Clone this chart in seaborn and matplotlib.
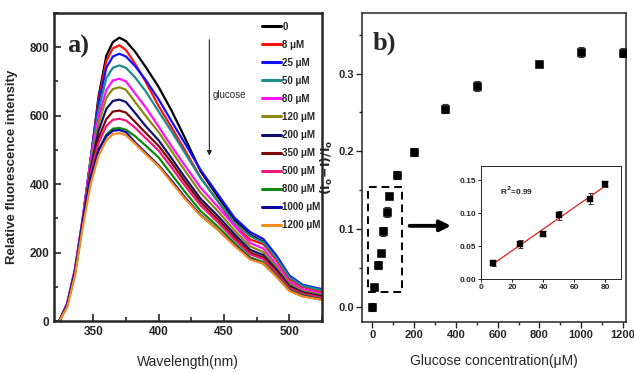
import matplotlib
matplotlib.use('Agg')
import matplotlib.pyplot as plt
from matplotlib.patches import Rectangle
from matplotlib.ticker import MultipleLocator, FormatStrFormatter
import seaborn as sns
import pandas as pd

# ---- panel a) fluorescence spectra ----
wavelength = [324, 330, 336, 342, 348, 354, 360, 365, 370, 375, 382, 390, 400,
              410, 420, 432, 445, 458, 470, 480, 490, 500, 510, 525]

conc_labels = ['0', '8 μM', '25 μM', '50 μM', '80 μM', '120 μM', '200 μM',
               '350 μM', '500 μM', '800 μM', '1000 μM', '1200 μM']

spec_0 = [0, 48, 145, 295, 470, 655, 775, 815, 828, 818, 787, 743, 684, 614, 536, 438, 365, 296, 252, 232, 182, 126, 102, 88]
spec_8 = [0, 48, 145, 295, 470, 645, 760, 797, 806, 792, 752, 700, 628, 565, 500, 420, 352, 280, 238, 225, 178, 122, 100, 84]
spec_25 = [0, 50, 150, 300, 475, 635, 740, 773, 781, 773, 745, 705, 648, 583, 520, 442, 372, 302, 260, 240, 192, 133, 106, 93]
spec_50 = [0, 50, 150, 300, 472, 615, 710, 740, 747, 740, 712, 672, 612, 553, 492, 418, 352, 288, 248, 230, 184, 128, 103, 90]
spec_80 = [0, 52, 152, 302, 470, 595, 675, 703, 708, 700, 665, 625, 568, 510, 455, 390, 335, 278, 228, 212, 165, 114, 93, 80]
spec_120 = [0, 46, 142, 292, 455, 575, 652, 678, 683, 676, 640, 600, 552, 496, 440, 375, 322, 265, 218, 202, 158, 108, 88, 76]
spec_200 = [0, 46, 142, 290, 445, 555, 620, 643, 647, 640, 608, 570, 528, 475, 420, 358, 308, 254, 208, 193, 151, 103, 84, 72]
spec_350 = [0, 45, 140, 288, 435, 535, 590, 612, 615, 609, 582, 550, 512, 462, 408, 348, 298, 245, 200, 186, 145, 99, 81, 70]
spec_500 = [0, 47, 145, 292, 432, 520, 570, 588, 591, 586, 565, 535, 498, 448, 396, 338, 290, 238, 195, 181, 141, 96, 79, 68]
spec_800 = [0, 44, 138, 285, 415, 500, 545, 562, 564, 559, 540, 513, 478, 428, 378, 322, 277, 228, 186, 172, 134, 91, 75, 64]
spec_1000 = [0, 46, 142, 292, 420, 498, 540, 556, 558, 552, 522, 492, 455, 410, 362, 310, 268, 222, 182, 168, 131, 89, 73, 63]
spec_1200 = [0, 40, 132, 275, 400, 482, 528, 546, 549, 543, 518, 488, 452, 405, 358, 308, 268, 220, 180, 168, 130, 88, 72, 62]

spectra = [spec_0, spec_8, spec_25, spec_50, spec_80, spec_120, spec_200,
           spec_350, spec_500, spec_800, spec_1000, spec_1200]

line_colors = ['#000000', '#ff1010', '#1010ff', '#1f8a8a', '#ff10ff', '#8a8a10',
               '#10106e', '#7a0a0a', '#f0187a', '#0a8a0a', '#0a0aa0', '#f58a1e']

# ---- panel b) quenching vs glucose ----
glucose = [0, 8, 25, 40, 50, 70, 80, 120, 200, 350, 500, 800, 1000, 1200]
quench = [0.0, 0.025, 0.054, 0.069, 0.097, 0.122, 0.143, 0.169, 0.199, 0.255,
          0.284, 0.313, 0.328, 0.327]
quench_err = [0.005, 0.004, 0.005, 0.003, 0.006, 0.006, 0.003, 0.005, 0.005,
              0.006, 0.006, 0.003, 0.006, 0.006]

# inset: linear range
lin_x = [8, 25, 40, 50, 70, 80]
lin_y = [0.025, 0.053, 0.069, 0.097, 0.122, 0.144]
lin_err = [0.005, 0.006, 0.004, 0.007, 0.008, 0.005]

sns.set_theme(style='ticks')
plt.rcParams['font.family'] = ['Liberation Sans', 'DejaVu Sans']
plt.rcParams['mathtext.fontset'] = 'dejavusans'

fig = plt.figure(figsize=(6.34, 3.72), dpi=100)
ax1 = fig.add_axes([0.0852, 0.137, 0.4228, 0.828])
ax2 = fig.add_axes([0.571, 0.134, 0.4164, 0.831])
axin = fig.add_axes([0.7587, 0.249, 0.2208, 0.306])

rows = []
for lab, vals in zip(conc_labels, spectra):
    for w, v in zip(wavelength, vals):
        rows.append({'wavelength': w, 'intensity': v, 'conc': lab})
df = pd.DataFrame(rows)

sns.lineplot(data=df, x='wavelength', y='intensity', hue='conc',
             hue_order=conc_labels, palette=line_colors, sort=False,
             linewidth=1.6, ax=ax1)

ax1.set_xlim(320, 525)
ax1.set_ylim(0, 900)
ax1.xaxis.set_major_locator(MultipleLocator(50))
ax1.xaxis.set_minor_locator(MultipleLocator(25))
ax1.yaxis.set_major_locator(MultipleLocator(200))
ax1.yaxis.set_minor_locator(MultipleLocator(100))
ax1.tick_params(which='both', direction='in', width=1.2, labelsize=8.5)
ax1.tick_params(which='major', length=5)
ax1.tick_params(which='minor', length=3)
for lbl in ax1.get_xticklabels() + ax1.get_yticklabels():
    lbl.set_fontweight('bold')
for sp in ax1.spines.values():
    sp.set_linewidth(1.8)
    sp.set_visible(True)
ax1.set_xlabel('Wavelength(nm)', fontsize=10, labelpad=12)
ax1.set_ylabel('Relative fluorescence intensity', fontsize=9.5, fontweight='bold',
               labelpad=8)

leg = ax1.legend(loc='upper left', bbox_to_anchor=(0.76, 0.985), frameon=False,
                 fontsize=7, handlelength=2.0, handletextpad=0.12,
                 labelspacing=0.83, borderaxespad=0)
for t in leg.get_texts():
    t.set_fontweight('bold')
for h in leg.get_lines():
    h.set_linewidth(2.2)

ax1.annotate('', xy=(438.8, 475), xytext=(438.8, 830),
             arrowprops=dict(arrowstyle='-|>', lw=0.8, color='#222222',
                             mutation_scale=7))
ax1.text(441.5, 660, 'glucose', fontsize=7, va='center', ha='left')
ax1.text(0.05, 0.93, 'a)', transform=ax1.transAxes, fontsize=19, fontweight='bold',
         family=['Liberation Serif', 'DejaVu Serif'], va='top', ha='left')

# panel b
ax2.errorbar(glucose, quench, yerr=quench_err, fmt='none', ecolor='#333333',
             elinewidth=0.8, capsize=2.2, capthick=0.8)
sns.scatterplot(x=glucose, y=quench, marker='s', color='black', s=26,
                edgecolor='black', ax=ax2, zorder=3)
ax2.set_xlim(-50, 1215)
ax2.set_ylim(-0.02, 0.378)
ax2.xaxis.set_major_locator(MultipleLocator(200))
ax2.xaxis.set_minor_locator(MultipleLocator(100))
ax2.yaxis.set_major_locator(MultipleLocator(0.1))
ax2.yaxis.set_minor_locator(MultipleLocator(0.05))
ax2.tick_params(which='both', direction='out', width=1.0, labelsize=8, pad=2)
ax2.tick_params(which='major', length=4)
ax2.tick_params(which='minor', length=2.5)
for lbl in ax2.get_xticklabels() + ax2.get_yticklabels():
    lbl.set_fontweight('bold')
for sp in ax2.spines.values():
    sp.set_linewidth(1.1)
    sp.set_visible(True)
ax2.set_xlabel('Glucose concentration(μM)', fontsize=10, labelpad=10)
ax2.set_ylabel(r'$\mathbf{(I_o\!-\!I)/I_o}$', fontsize=9, labelpad=2)
ax2.text(0.04, 0.94, 'b)', transform=ax2.transAxes, fontsize=19, fontweight='bold',
         family=['Liberation Serif', 'DejaVu Serif'], va='top', ha='left')

ax2.add_patch(Rectangle((-20, 0.019), 162, 0.1345, fill=False, ls=(0, (4, 2.5)),
                        lw=1.4, edgecolor='black', zorder=1))
ax2.annotate('', xy=(390, 0.104), xytext=(165, 0.104),
             arrowprops=dict(arrowstyle='-|>', lw=2.8, color='black',
                             mutation_scale=16))

# inset
axin.errorbar(lin_x, lin_y, yerr=lin_err, fmt='none', ecolor='#333333',
              elinewidth=0.7, capsize=1.8, capthick=0.7)
sns.regplot(x=lin_x, y=lin_y, scatter=False, ci=None, truncate=True,
            line_kws={'color': '#e02020', 'lw': 0.9}, ax=axin)
sns.scatterplot(x=lin_x, y=lin_y, marker='s', color='black', s=16,
                edgecolor='black', ax=axin, zorder=3)
axin.set_xlim(0, 90)
axin.set_ylim(0, 0.172)
axin.xaxis.set_major_locator(MultipleLocator(20))
axin.yaxis.set_major_locator(MultipleLocator(0.05))
axin.yaxis.set_major_formatter(FormatStrFormatter('%.2f'))
axin.tick_params(which='both', direction='out', length=2, width=0.7,
                 labelsize=6, pad=1.5)
for lbl in axin.get_xticklabels() + axin.get_yticklabels():
    lbl.set_fontweight('bold')
for sp in axin.spines.values():
    sp.set_linewidth(0.7)
    sp.set_visible(True)
axin.set_xlabel('')
axin.set_ylabel('')
axin.text(12, 0.134, r'R$^\mathbf{2}$=0.99', fontsize=6, fontweight='bold', va='center')

fig.savefig('out.png', dpi=100)
